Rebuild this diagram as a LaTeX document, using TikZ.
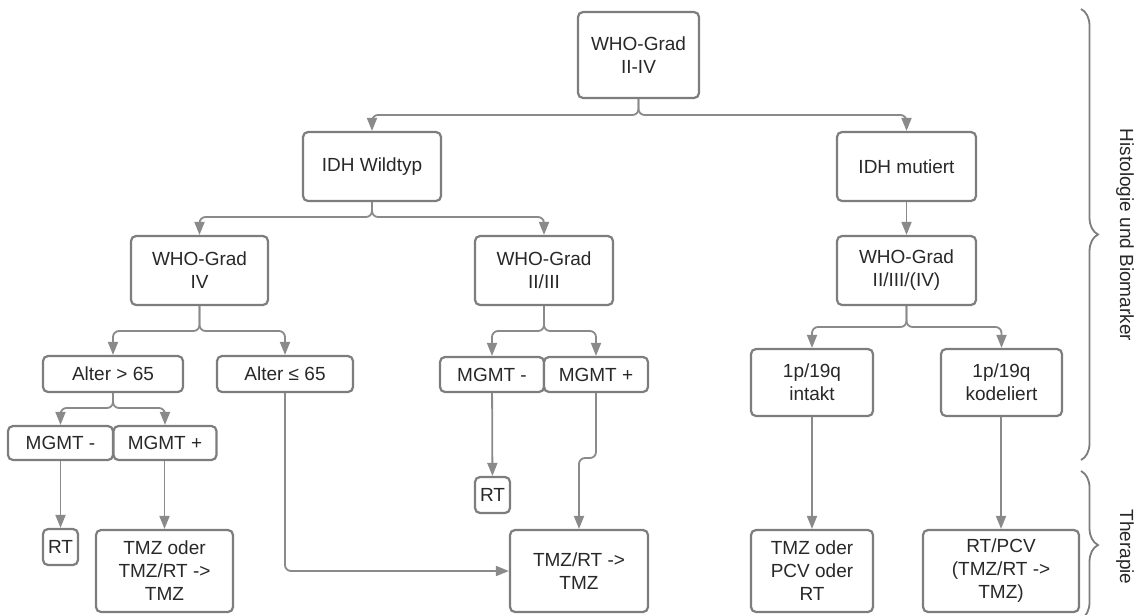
\documentclass[tikz,border=0pt]{standalone}
\usepackage{fontspec}
\setmainfont{Liberation Sans}
\usepackage{tikz}
\usepackage{xcolor}
\usetikzlibrary{arrows.meta,decorations.pathreplacing}
\definecolor{linegray}{RGB}{138,138,138}
\definecolor{boxgray}{RGB}{125,125,125}
\definecolor{textgray}{RGB}{40,40,40}

\begin{document}
\begin{tikzpicture}[x=1pt, y=-1pt, >={Triangle[length=13pt,width=10pt]},
    box/.style={draw=boxgray, line width=2.2pt, rounded corners=5pt, fill=white,
        align=center, text=textgray, inner sep=0pt,
        font=\fontsize{19}{23}\selectfont},
    conn/.style={->, draw=linegray, line width=1.8pt, rounded corners=6pt},
    bracestyle/.style={draw=boxgray, line width=1.8pt, decorate,
        decoration={brace, amplitude=17pt}},
    sidelabel/.style={rotate=-90, text=textgray, font=\fontsize{19}{23}\selectfont}]
    \useasboundingbox (0,0) rectangle (1139,614);
    \clip (0,0) rectangle (1139,614);

    % Histology boxes
    \node[box, minimum width=121pt, minimum height=86pt] (who) at (638.5,55) {WHO-Grad\\II-IV};
    \node[box, minimum width=138pt, minimum height=69pt] (wild) at (372,166.5) {IDH Wildtyp};
    \node[box, minimum width=139pt, minimum height=69pt] (mut) at (906.5,166.5) {IDH mutiert};
    \node[box, minimum width=137pt, minimum height=69pt] (g4) at (199.5,270.5) {WHO-Grad\\IV};
    \node[box, minimum width=138pt, minimum height=69pt] (g23) at (544,270.5) {WHO-Grad\\II/III};
    \node[box, minimum width=139pt, minimum height=69pt] (g234) at (906.5,270.5) {WHO-Grad\\II/III/(IV)};

    % Biomarker boxes
    \node[box, minimum width=140pt, minimum height=36pt] (old) at (113,374) {Alter > 65};
    \node[box, minimum width=136pt, minimum height=36pt] (young) at (285,374) {Alter ≤ 65};
    \node[box, minimum width=105pt, minimum height=34pt] (mgmtAneg) at (60.5,443) {MGMT -};
    \node[box, minimum width=103pt, minimum height=34pt] (mgmtApos) at (165,443) {MGMT +};
    \node[box, minimum width=104pt, minimum height=35pt] (mgmtBneg) at (492,374.5) {MGMT -};
    \node[box, minimum width=104pt, minimum height=35pt] (mgmtBpos) at (596,374.5) {MGMT +};
    \node[box, minimum width=122pt, minimum height=67pt] (intakt) at (812,382.5) {1p/19q\\intakt};
    \node[box, minimum width=121pt, minimum height=67pt] (kodel) at (1001.5,382.5) {1p/19q\\kodeliert};

    % Therapy boxes
    \node[box, minimum width=35pt, minimum height=36pt] (rtA) at (60.5,547) {RT};
    \node[box, minimum width=137pt, minimum height=82pt] (tmzA) at (164.5,571) {TMZ oder\\TMZ/RT ->\\TMZ};
    \node[box, minimum width=35pt, minimum height=36pt] (rtB) at (492.5,495) {RT};
    \node[box, minimum width=138pt, minimum height=82pt] (tmzB) at (579,571) {TMZ/RT ->\\TMZ};
    \node[box, minimum width=122pt, minimum height=82pt] (tmzC) at (812,571) {TMZ oder\\PCV oder\\RT};
    \node[box, minimum width=156pt, minimum height=82pt] (rtpcv) at (1001,571) {RT/PCV\\(TMZ/RT ->\\TMZ)};

    % Split points
    \coordinate (s0) at (638.5,115);
    \coordinate (s1) at (372,217);
    \coordinate (s2) at (199.5,331);
    \coordinate (s3) at (544,331);
    \coordinate (s4) at (906.5,327);
    \coordinate (s5) at (113,408);
    \coordinate (jog) at (596,458);

    % Connectors
    \draw[conn] (who.south) -- (s0) -| (wild.north);
    \draw[conn] (who.south) -- (s0) -| (mut.north);
    \draw[conn] (wild.south) -- (s1) -| (g4.north);
    \draw[conn] (wild.south) -- (s1) -| (g23.north);
    \draw[conn] (mut) -- (g234);
    \draw[conn] (g4.south) -- (s2) -| (old.north);
    \draw[conn] (g4.south) -- (s2) -| (young.north);
    \draw[conn] (g23.south) -- (s3) -| (mgmtBneg.north);
    \draw[conn] (g23.south) -- (s3) -| (mgmtBpos.north);
    \draw[conn] (g234.south) -- (s4) -| (intakt.north);
    \draw[conn] (g234.south) -- (s4) -| (kodel.north);
    \draw[conn] (old.south) -- (s5) -| (mgmtAneg.north);
    \draw[conn] (old.south) -- (s5) -| (mgmtApos.north);
    \draw[conn] (mgmtAneg) -- (rtA);
    \draw[conn] (mgmtApos.south -| tmzA.north) -- (tmzA.north);
    \draw[conn] (young.south) |- (tmzB.west);
    \draw[conn] (mgmtBneg) -- (rtB);
    \draw[conn] (mgmtBpos.south) -- (jog) -| (tmzB.north);
    \draw[conn] (intakt) -- (tmzC);
    \draw[conn] (kodel.south -| rtpcv.north) -- (rtpcv.north);

    % Braces
    \draw[bracestyle] (1081,9) -- (1081,460);
    \draw[bracestyle] (1081,471) -- (1081,619);
    \node[sidelabel] (histo) at (1125,235) {Histologie und Biomarker};
    \node[sidelabel] (thera) at (1125,547) {Therapie};
\end{tikzpicture}
\end{document}
